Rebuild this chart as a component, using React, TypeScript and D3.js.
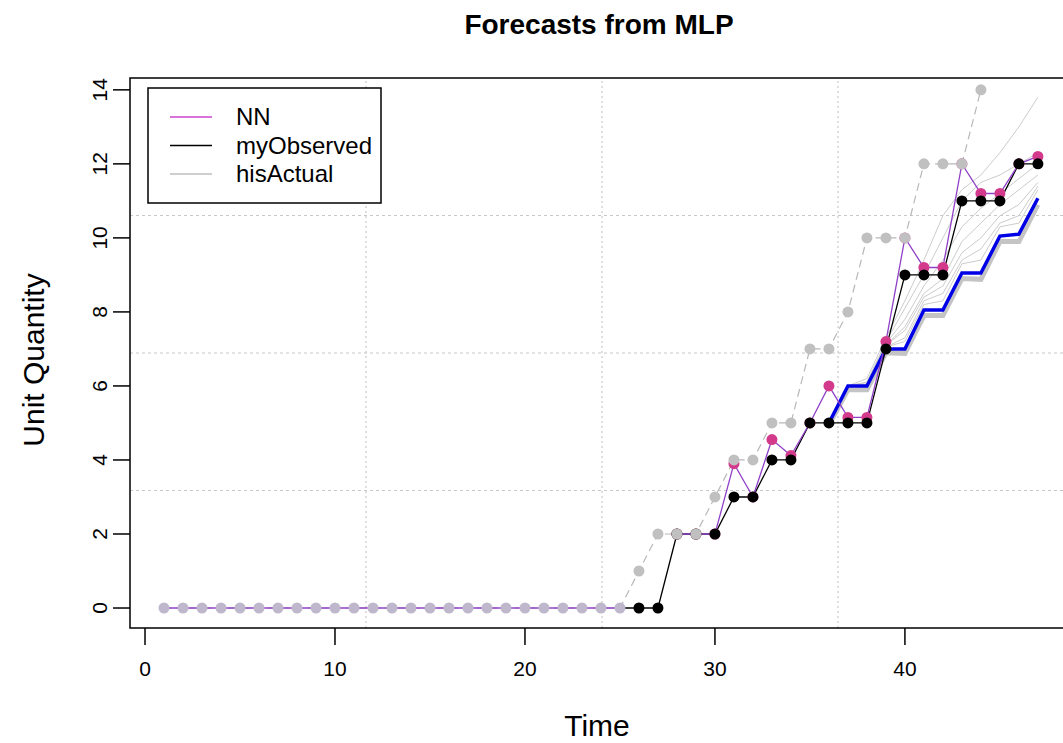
import React from "react";
import * as d3 from "d3";

const W = 1063;
const H = 743;

// Time index 1..47
const times: number[] = Array.from({ length: 47 }, (_, i) => i + 1);

// hisActual (gray points, dashed gray line), t = 1..44
const actualValues: number[] = [
  0, 0, 0, 0, 0, 0, 0, 0, 0, 0, 0, 0, 0, 0, 0, 0, 0, 0, 0, 0, 0, 0, 0, 0, 0,
  1, 2, 2, 2, 3, 4, 4, 5, 5, 7, 7, 8, 10, 10, 10, 12, 12, 12, 14,
];

// myObserved (black), t = 25..47
const observedStart = 25;
const observedValues: number[] = [
  0, 0, 0, 2, 2, 2, 3, 3, 4, 4, 5, 5, 5, 5, 7, 9, 9, 9, 11, 11, 11, 12, 12,
];

// NN (purple line, magenta points), t = 1..47 (null = gap)
const nnValues: (number | null)[] = [
  0, 0, 0, 0, 0, 0, 0, 0, 0, 0, 0, 0, 0, 0, 0, 0, 0, 0, 0, 0, 0, 0, 0, 0, 0,
  null, null,
  2, 2, 2, 3.9, 3.0, 4.55, 4.12, 5, 6.0, 5.15, 5.15, 7.2, 10, 9.2, 9.2, 12,
  11.2, 11.2, 12, 12.2,
];

// MLP forecast median (blue), t = 36..47
const forecastStart = 36;
const forecastValues: number[] = [
  5, 6, 6, 7, 7, 8.05, 8.05, 9.05, 9.05, 10.05, 10.1, 11.07,
];

// Ensemble members (thin gray), t = 36..47
const ensemble1: number[] = [5, 6, 6.2, 7.3, 8.3, 9.4, 10.6, 11.3, 11.7, 12.3, 13.0, 13.8];
const ensemble2: number[] = [5, 6, 6.1, 7.2, 8.1, 9.0, 10.0, 11.0, 11.5, 11.7, 12.0, 12.3];
const ensemble3: number[] = [5, 6, 6.1, 7.15, 7.8, 8.7, 9.4, 10.3, 10.8, 11.2, 11.6, 12.0];
const ensemble4: number[] = [5, 6, 6.05, 7.1, 7.6, 8.5, 8.9, 9.9, 10.4, 10.9, 11.3, 11.7];
const ensemble5: number[] = [5, 6, 6.05, 7.1, 7.5, 8.4, 8.7, 9.6, 10.0, 10.6, 10.9, 11.5];
const ensemble6: number[] = [5, 6, 6.0, 7.05, 7.3, 8.3, 8.5, 9.4, 9.7, 10.4, 10.6, 11.4];
const ensemble7: number[] = [5, 6, 6.0, 7.05, 7.2, 8.2, 8.3, 9.3, 9.4, 10.3, 10.4, 11.3];
const ensembleLow: number[] = [4.95, 5.9, 5.9, 6.9, 6.88, 7.9, 7.9, 8.9, 8.88, 9.9, 9.9, 10.9];

const xTicks: number[] = [0, 10, 20, 30, 40];
const yTicks: number[] = [0, 2, 4, 6, 8, 10, 12, 14];

const legendLabels: string[] = ["NN", "myObserved", "hisActual"];
const legendColors: string[] = ["#cc44cc", "#000000", "#bebebe"];

const FONT = "'Liberation Sans', Arial, sans-serif";

type P = { t: number; v: number | null };

export default function App() {
  const x = d3.scaleLinear().domain([-0.79, 48.9]).range([130, 1074]);
  const y = d3.scaleLinear().domain([-0.54, 14.32]).range([628, 78]);

  const line = d3
    .line<P>()
    .defined((d) => d.v !== null)
    .x((d) => x(d.t))
    .y((d) => y(d.v as number));

  const actual: P[] = actualValues.map((v, i) => ({ t: times[i], v }));
  const observed: P[] = observedValues.map((v, i) => ({ t: observedStart + i, v }));
  const nn: P[] = nnValues.map((v, i) => ({ t: times[i], v }));
  const fc: P[] = forecastValues.map((v, i) => ({ t: forecastStart + i, v }));
  const ens = [ensemble1, ensemble2, ensemble3, ensemble4, ensemble5, ensemble6, ensemble7].map(
    (arr) => arr.map((v, i) => ({ t: forecastStart + i, v }))
  );
  const ensLow: P[] = ensembleLow.map((v, i) => ({ t: forecastStart + i, v }));

  const [x0, x1] = x.domain();
  const [y0, y1] = y.domain();
  const gridX = [1, 2, 3].map((k) => x0 + ((x1 - x0) * k) / 4);
  const gridY = [1, 2, 3].map((k) => y0 + ((y1 - y0) * k) / 4);

  const R = 5.5;

  return (
    <svg
      width={W}
      height={H}
      style={{ position: "absolute", left: 0, top: 0, background: "#fff" }}
      fontFamily={FONT}
    >
      <rect x={0} y={0} width={W} height={H} fill="#fff" />
      {/* Title */}
      <text x={599} y={34} textAnchor="middle" fontWeight="bold" fontSize={28}>
        Forecasts from MLP
      </text>

      {/* grid */}
      {gridX.map((g, i) => (
        <line key={"gx" + i} x1={x(g)} x2={x(g)} y1={y(y0)} y2={y(y1)} stroke="#c8c8c8" strokeWidth={1.2} strokeDasharray="2,3" />
      ))}
      {gridY.map((g, i) => (
        <line key={"gy" + i} x1={x(x0)} x2={x(x1)} y1={y(g)} y2={y(g)} stroke="#c8c8c8" strokeWidth={1.2} strokeDasharray="3,3" />
      ))}

      {/* ensemble */}
      <path d={line(ensLow) || ""} fill="none" stroke="#c4c4c4" strokeWidth={5} />
      {ens.map((e, i) => (
        <path key={"e" + i} d={line(e) || ""} fill="none" stroke="#cccccc" strokeWidth={1} />
      ))}
      {/* forecast median */}
      <path d={line(fc) || ""} fill="none" stroke="#0000e6" strokeWidth={3.5} />

      {/* actual dashed line */}
      <path d={line(actual) || ""} fill="none" stroke="#b8b8b8" strokeWidth={1.2} strokeDasharray="8,5" />

      {/* observed line */}
      <path d={line(observed) || ""} fill="none" stroke="#000" strokeWidth={1.3} />
      {/* NN line */}
      <path d={line(nn) || ""} fill="none" stroke="#9040c8" strokeWidth={1.3} />
      {/* NN points */}
      {nn
        .filter((d) => d.v !== null && d.t > 25)
        .map((d, i) => (
          <circle key={"n" + i} cx={x(d.t)} cy={y(d.v as number)} r={R} fill="#d33a8c" />
        ))}
      {/* observed points */}
      {observed
        .filter((d) => d.t > 25)
        .map((d, i) => (
          <circle key={"o" + i} cx={x(d.t)} cy={y(d.v as number)} r={R} fill="#000" />
        ))}
      {/* actual points */}
      {actual.map((d, i) => (
        <circle key={"a" + i} cx={x(d.t)} cy={y(d.v as number)} r={R} fill={d.t <= 25 ? "#bfb8cc" : "#c0c0c0"} />
      ))}

      {/* plot box */}
      <rect x={x(x0)} y={y(y1)} width={x(x1) - x(x0)} height={y(y0) - y(y1)} fill="none" stroke="#000" strokeWidth={1.5} />

      {/* x axis */}
      {xTicks.map((t) => (
        <g key={"xt" + t}>
          <line x1={x(t)} x2={x(t)} y1={628} y2={645} stroke="#000" strokeWidth={1.5} />
          <text x={x(t)} y={676} textAnchor="middle" fontSize={21}>
            {t}
          </text>
        </g>
      ))}
      {/* y axis */}
      {yTicks.map((v) => (
        <g key={"yt" + v}>
          <line x1={130} x2={113} y1={y(v)} y2={y(v)} stroke="#000" strokeWidth={1.5} />
          <text transform={`translate(107,${y(v)}) rotate(-90)`} textAnchor="middle" fontSize={21}>
            {v}
          </text>
        </g>
      ))}

      {/* axis labels */}
      <text x={597} y={736} textAnchor="middle" fontSize={30}>
        Time
      </text>
      <text transform={`translate(44,360) rotate(-90)`} textAnchor="middle" fontSize={30}>
        Unit Quantity
      </text>

      {/* legend */}
      <rect x={148} y={88} width={233} height={115} fill="#fff" stroke="#000" strokeWidth={1.5} />
      {legendLabels.map((lab, i) => (
        <g key={"lg" + i}>
          <line x1={170} x2={212} y1={117 + i * 28.5} y2={117 + i * 28.5} stroke={legendColors[i]} strokeWidth={1.5} />
          <text x={236} y={117 + i * 28.5 + 8} fontSize={24}>
            {lab}
          </text>
        </g>
      ))}
    </svg>
  );
}
